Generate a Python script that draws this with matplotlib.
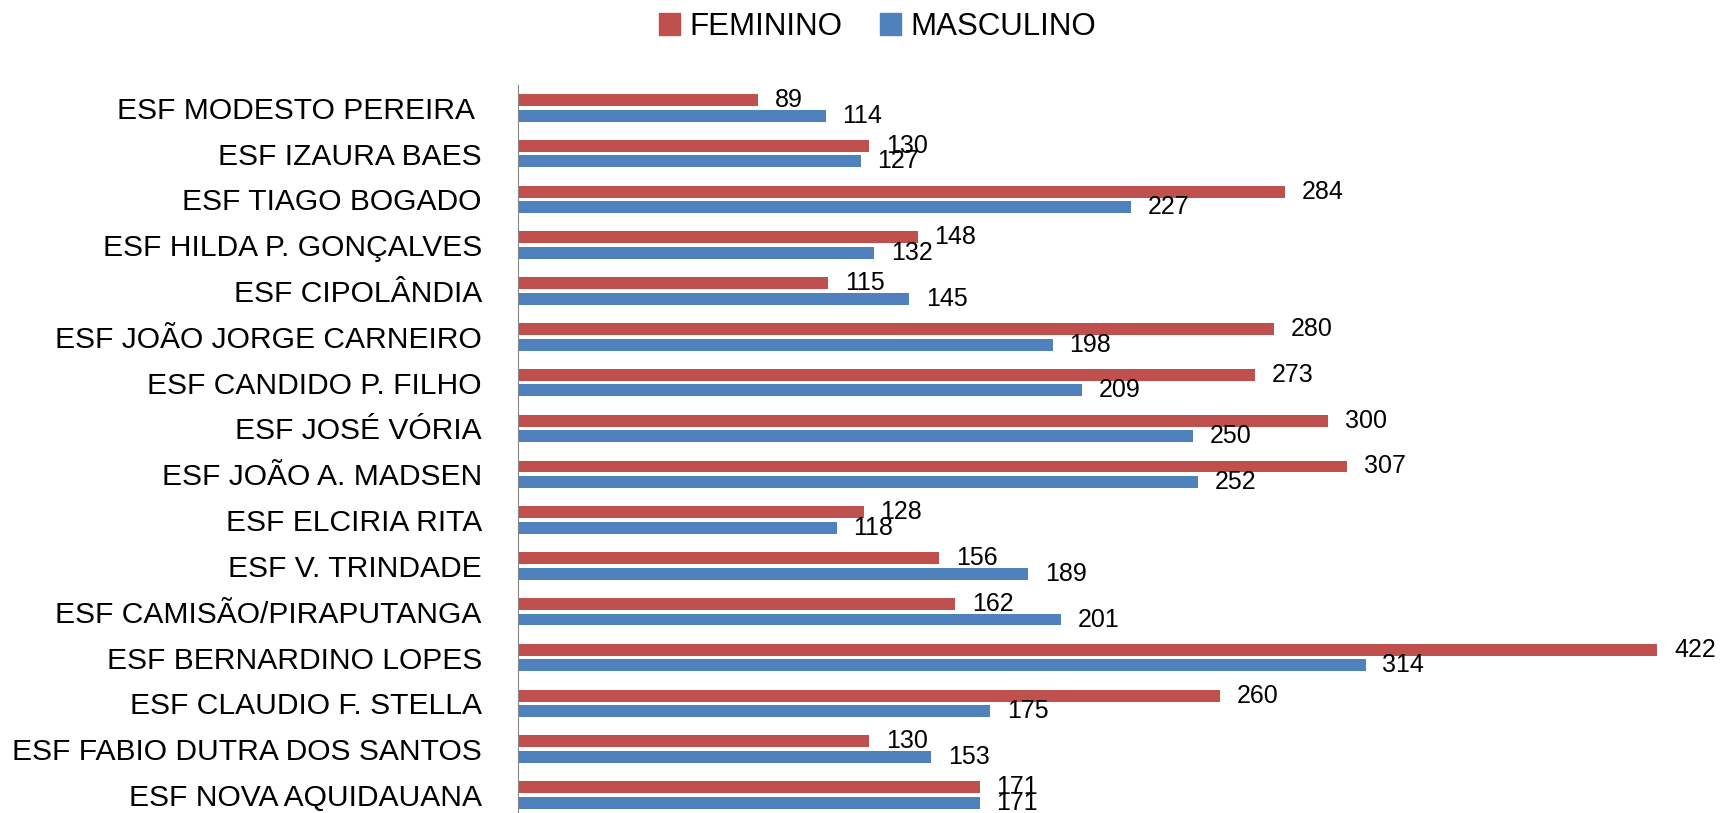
import matplotlib.pyplot as plt
import numpy as np
from matplotlib.patches import Patch

plt.rcParams['font.family'] = ['Liberation Sans', 'DejaVu Sans']

units = ['ESF MODESTO PEREIRA ', 'ESF IZAURA BAES', 'ESF TIAGO BOGADO',
         'ESF HILDA P. GONÇALVES', 'ESF CIPOLÂNDIA', 'ESF JOÃO JORGE CARNEIRO',
         'ESF CANDIDO P. FILHO', 'ESF JOSÉ VÓRIA', 'ESF JOÃO A. MADSEN',
         'ESF ELCIRIA RITA', 'ESF V. TRINDADE', 'ESF CAMISÃO/PIRAPUTANGA',
         'ESF BERNARDINO LOPES', 'ESF CLAUDIO F. STELLA',
         'ESF FABIO DUTRA DOS SANTOS', 'ESF NOVA AQUIDAUANA']
feminino = [89, 130, 284, 148, 115, 280, 273, 300, 307, 128, 156, 162, 422, 260, 130, 171]
masculino = [114, 127, 227, 132, 145, 198, 209, 250, 252, 118, 189, 201, 314, 175, 153, 171]

red = '#C0504D'
blue = '#4F81BD'

fig = plt.figure(figsize=(17.27, 8.13), dpi=100)
ax = fig.add_axes([0.2999, -0.006, 0.7036, 0.9016])

y = np.arange(len(units))
h = 0.26
off = 0.17
b1 = ax.barh(y - off, feminino, height=h, color=red)
b2 = ax.barh(y + off, masculino, height=h, color=blue)
# labels sit at the outer end of each bar, like Excel's "outside end"
ax.bar_label(b1, padding=12, fontsize=18)
ax.bar_label(b2, padding=12, fontsize=18)

ax.set_xlim(0, 450)
ax.set_ylim(len(units) - 0.5, -0.5)
ax.set_yticks(y)
ax.set_yticklabels(units, fontsize=21.6)
ax.tick_params(axis='y', length=0, pad=26)
ax.set_xticks([])
for s in ['top', 'right', 'bottom']:
    ax.spines[s].set_visible(False)
ax.spines['left'].set_color('#868686')

handles = [Patch(color=red), Patch(color=blue)]
fig.legend(handles, ['FEMININO', 'MASCULINO'], loc='center', ncol=2,
           bbox_to_anchor=(0.508, 0.967), frameon=False, fontsize=22.5,
           handlelength=0.68, handleheight=0.68, handletextpad=0.3,
           columnspacing=1.2)

fig.savefig('out.png', dpi=100)
